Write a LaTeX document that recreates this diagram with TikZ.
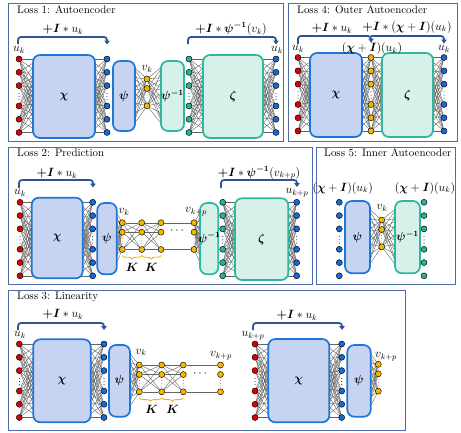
\documentclass[tikz,border=0pt]{standalone}
\usepackage{amsmath,bm}
\usetikzlibrary{arrows.meta,decorations.pathreplacing,calc}
\pgfdeclarelayer{bg}
\pgfsetlayers{bg,main}
\definecolor{panelc}{RGB}{78,108,168}
\definecolor{skipc}{RGB}{46,84,150}
\definecolor{encb}{RGB}{30,118,214}
\definecolor{encf}{RGB}{199,212,241}
\definecolor{decb}{RGB}{48,184,158}
\definecolor{decf}{RGB}{214,240,234}
\definecolor{nred}{RGB}{222,0,0}
\definecolor{nblue}{RGB}{22,104,222}
\definecolor{nyel}{RGB}{246,182,0}
\definecolor{nteal}{RGB}{38,178,150}
\definecolor{fanc}{RGB}{100,100,100}
\definecolor{bracec}{RGB}{245,180,20}
\tikzset{
 panel/.style={draw=panelc, line width=0.9pt},
 title/.style={anchor=west, font=\fontsize{10.9}{12}\selectfont, inner sep=0pt},
 enc/.style={draw=encb, fill=encf, line width=1.7pt, rounded corners=7pt, inner sep=0pt},
 dec/.style={draw=decb, fill=decf, line width=1.7pt, rounded corners=7pt, inner sep=0pt},
 blklbl/.style={font=\fontsize{12}{13}\selectfont, inner sep=0pt},
 neuron/.style={circle, draw=black, line width=0.45pt, minimum size=6pt, inner sep=0pt},
 fan/.style={draw=fanc, line width=0.4pt},
 skip/.style={draw=skipc, line width=1.8pt, rounded corners=3pt, -{Triangle[length=4pt,width=5.5pt]}},
 lbl/.style={font=\fontsize{11.5}{12}\selectfont, inner sep=0pt},
 kbrace/.style={decorate, decoration={brace, mirror, amplitude=3.5pt}, draw=bracec, line width=0.9pt},
}
% box: name, style, x1, y1, x2, y2, label
\newcommand\blk[7]{%
 \pgfmathsetmacro\bw{#5-#3}\pgfmathsetmacro\bh{#6-#4}%
 \node[#2, minimum width=\bw pt, minimum height=\bh pt] (#1) at ({(#3+#5)/2},{(#4+#6)/2}) {};
 \node[blklbl] (#1l) at (#1.center) {#7};}
% six-neuron column: name, x, y0, colour
\newcommand\sixcol[4]{%
 \foreach \o [count=\i] in {0,13.3,26.6,47,60.3,73.5}{\node[neuron, fill=#4] (#1\i) at (#2,#3+\o) {};}
 \foreach \d in {-3.2,0,3.2}{\fill (#2,#3+37.5+\d) circle (0.5pt);}}
% three-neuron column: name, x, y0
\newcommand\threecol[3]{%
 \foreach \o [count=\i] in {0,9.5,26.8}{\node[neuron, fill=nyel] (#1\i) at (#2,#3+\o) {};}
 \foreach \d in {-2.8,0,2.8}{\fill[black!70] (#2,#3+18.2+\d) circle (0.4pt);}}
% fan: node prefix, count, x, ytop, ybot (6 hidden levels)
\newcommand\fan[5]{\begin{pgfonlayer}{bg}\foreach \i in {1,...,#2}{\foreach \j in {0,...,5}{\draw[fan] (#1\i.center) -- (#3,{#4+(#5-#4)*\j/5});}}\end{pgfonlayer}}
% full connection between two 3-columns
\newcommand\full[2]{\begin{pgfonlayer}{bg}\foreach \i in {1,2,3}{\foreach \j in {1,2,3}{\draw[fan] (#1\i) -- (#2\j);}}\end{pgfonlayer}}
\begin{document}
\begin{tikzpicture}[x=1pt,y=-1pt]
\useasboundingbox (0,0) rectangle (461,432);
% panels
\draw[panel] (8,3) rectangle (283,141);
\draw[panel] (288,3) rectangle (457,141);
\draw[panel] (8,147) rectangle (312,284);
\draw[panel] (316,147) rectangle (455,284);
\draw[panel] (8,290) rectangle (405,430);
\node[title] (t1) at (17,9.5) {Loss 1: Autoencoder};
\node[title] (t4) at (297,9.5) {Loss 4: Outer Autoencoder};
\node[title] (t2) at (17,153) {Loss 2: Prediction};
\node[title] (t5) at (324,153) {Loss 5: Inner Autoencoder};
\node[title] (t3) at (17,297) {Loss 3: Linearity};

% ================= Loss 1
\blk{L1chi}{enc}{33}{55}{95}{138}{$\bm{\chi}$}
\blk{L1psi}{enc}{113}{61}{135}{131}{$\bm{\psi}$}
\blk{L1psii}{dec}{161}{61}{184}{131}{$\bm{\psi}^{\bm{-1}}$}
\blk{L1zeta}{dec}{203}{55}{263}{138}{$\bm{\zeta}$}
\sixcol{L1r}{19}{59}{nred}
\sixcol{L1b}{107}{59}{nblue}
\threecol{L1v}{147}{79}
\sixcol{L1t}{189}{59}{nteal}
\sixcol{L1o}{276}{59}{nblue}
\fan{L1r}{6}{39}{59}{132.5}
\fan{L1b}{6}{89}{59}{132.5}
\fan{L1v}{3}{132}{65}{127}
\fan{L1v}{3}{164}{65}{127}
\fan{L1t}{6}{209}{59}{132.5}
\fan{L1o}{6}{257}{59}{132.5}
\node[lbl] (L1uk) at (19,50) {$u_k$};
\node[lbl] (L1vk) at (147,69) {$v_k$};
\node[lbl] (L1uo) at (277,50) {$u_k$};
\coordinate (L1a1) at (18,44); \coordinate (L1a2) at (107,44.5);
\coordinate (L1c1) at (188,44); \coordinate (L1c2) at (276,44.5);
\draw[skip] (L1a1) |- (107,37) -- (L1a2);
\draw[skip] (L1c1) |- (276,37) -- (L1c2);
\node[lbl] (L1s1) at (63,29) {$\bm{+I} * u_k$};
\node[lbl] (L1s2) at (231,29) {$\bm{+I} * \bm{\psi}^{\bm{-1}}(v_k)$};

% ================= Loss 4
\blk{L4chi}{enc}{310}{53}{362}{137}{$\bm{\chi}$}
\blk{L4zeta}{dec}{382}{53}{433}{137}{$\bm{\zeta}$}
\sixcol{L4r}{298}{57.5}{nred}
\sixcol{L4y}{371}{57.5}{nyel}
\sixcol{L4o}{444}{57.5}{nblue}
\fan{L4r}{6}{316}{57.5}{131}
\fan{L4y}{6}{356}{57.5}{131}
\fan{L4y}{6}{388}{57.5}{131}
\fan{L4o}{6}{427}{57.5}{131}
\node[lbl] (L4uk) at (298,49) {$u_k$};
\node[lbl] (L4mid) at (372,48.5) {$(\bm{\chi}+\bm{I})(u_k)$};
\node[lbl] (L4uo) at (444,49) {$u_k$};
\coordinate (L4a1) at (298,44); \coordinate (L4a2) at (371,42.5);
\coordinate (L4c1) at (371,36); \coordinate (L4c2) at (444,43.5);
\draw[skip] (L4a1) |- (371,36) -- (L4a2);
\draw[skip] (L4c1) -| (L4c2);
\node[lbl] (L4s1) at (332,28) {$\bm{+I} * u_k$};
\node[lbl] (L4s2) at (407,27) {$\bm{+I} * (\bm{\chi}+\bm{I})(u_k)$};

% ================= Loss 2
\blk{L2chi}{enc}{31.7}{197.7}{82.7}{278.3}{$\bm{\chi}$}
\blk{L2psi}{enc}{97.3}{203}{116.7}{274.3}{$\bm{\psi}$}
\blk{L2psii}{dec}{200}{203}{218.3}{274.3}{$\bm{\psi}^{\bm{-1}}$}
\blk{L2zeta}{dec}{235}{198.3}{288.3}{280}{$\bm{\zeta}$}
\sixcol{L2r}{20}{202.3}{nred}
\sixcol{L2b}{92.7}{202.3}{nblue}
\threecol{L2a}{122.3}{222.7}
\threecol{L2c}{141.7}{222.7}
\threecol{L2d}{161}{222.7}
\threecol{L2e}{194}{222.7}
\sixcol{L2t}{222.7}{202.3}{nteal}
\sixcol{L2o}{296.7}{202.3}{nblue}
\fan{L2r}{6}{37}{202.3}{275.8}
\fan{L2b}{6}{77.5}{202.3}{275.8}
\fan{L2a}{3}{114}{208}{269}
\fan{L2e}{3}{203}{208}{269}
\fan{L2t}{6}{240.5}{202.3}{275.8}
\fan{L2o}{6}{283}{202.3}{275.8}
\full{L2a}{L2c}
\full{L2c}{L2d}
\begin{pgfonlayer}{bg}
\draw[fan] (L2d1) -- (L2e1);
\draw[fan] (L2d3) -- (L2e3);
\end{pgfonlayer}
\node[lbl] (L2dots) at (178,231) {$\cdots$};
\draw[kbrace] (L2a3.center) ++(0,6) coordinate (L2k0) -- ($(L2c3.center)+(0,6)$) coordinate (L2k1);
\draw[kbrace] (L2k1) -- ($(L2d3.center)+(0,6)$);
\node[lbl] (L2K1) at (132,267) {$\bm{K}$};
\node[lbl] (L2K2) at (151.4,267) {$\bm{K}$};
\node[lbl] (L2uk) at (20,193) {$u_k$};
\node[lbl] (L2vk) at (124,212) {$v_k$};
\node[lbl] (L2vkp) at (196,212) {$v_{k+p}$};
\node[lbl] (L2ukp) at (297,193) {$u_{k+p}$};
\coordinate (L2a1c) at (19,188); \coordinate (L2a2c) at (93,187.5);
\coordinate (L2c1c) at (221,188); \coordinate (L2c2c) at (297,187);
\draw[skip] (L2a1c) |- (93,180) -- (L2a2c);
\draw[skip] (L2c1c) |- (297,180) -- (L2c2c);
\node[lbl] (L2s1) at (57,173) {$\bm{+I} * u_k$};
\node[lbl] (L2s2) at (259,173) {$\bm{+I} * \bm{\psi}^{\bm{-1}}(v_{k+p})$};

% ================= Loss 5
\blk{L5psi}{enc}{345}{201}{370}{273.3}{$\bm{\psi}$}
\blk{L5psii}{dec}{395}{201}{420}{273.3}{$\bm{\psi}^{\bm{-1}}$}
\sixcol{L5b}{339.3}{202.3}{nblue}
\threecol{L5v}{381.7}{220}
\sixcol{L5t}{424}{202.3}{nteal}
\fan{L5v}{3}{367}{207}{268}
\fan{L5v}{3}{398}{207}{268}
\node[lbl] (L5in) at (342.7,188) {$(\bm{\chi}+\bm{I})(u_k)$};
\node[lbl] (L5out) at (425,188) {$(\bm{\chi}+\bm{I})(u_k)$};
\node[lbl] (L5vk) at (382,208) {$v_k$};

% ================= Loss 3
\blk{L3chi}{enc}{33.3}{339.3}{90.7}{422.3}{$\bm{\chi}$}
\blk{L3psi}{enc}{109}{345}{130}{416.7}{$\bm{\psi}$}
\blk{L3chib}{enc}{268.3}{339}{329.3}{422.3}{$\bm{\chi}$}
\blk{L3psib}{enc}{347.3}{345}{370.7}{416.7}{$\bm{\psi}$}
\sixcol{L3r}{19.3}{344}{nred}
\sixcol{L3b}{104}{344}{nblue}
\threecol{L3a}{139.3}{365}
\threecol{L3c}{161.7}{365}
\threecol{L3d}{183.3}{365}
\threecol{L3e}{220.5}{365}
\sixcol{L3s}{255}{344}{nred}
\sixcol{L3q}{341.7}{344}{nblue}
\threecol{L3f}{378.3}{364.3}
\fan{L3r}{6}{39}{344}{417.5}
\fan{L3b}{6}{85}{344}{417.5}
\fan{L3a}{3}{127}{350}{411}
\fan{L3s}{6}{274}{344}{417.5}
\fan{L3q}{6}{324}{344}{417.5}
\fan{L3f}{3}{368}{350}{411}
\full{L3a}{L3c}
\full{L3c}{L3d}
\begin{pgfonlayer}{bg}
\draw[fan] (L3d1) -- (L3e1);
\draw[fan] (L3d3) -- (L3e3);
\end{pgfonlayer}
\node[lbl] (L3dots) at (201,373.5) {$\cdots$};
\draw[kbrace] ($(L3a3.center)+(0,6)$) -- ($(L3c3.center)+(0,6)$) coordinate (L3k1);
\draw[kbrace] (L3k1) -- ($(L3d3.center)+(0,6)$);
\node[lbl] (L3K1) at (151.7,409) {$\bm{K}$};
\node[lbl] (L3K2) at (172.7,409) {$\bm{K}$};
\node[lbl] (L3uk) at (20,335) {$u_k$};
\node[lbl] (L3vk) at (141,352.5) {$v_k$};
\node[lbl] (L3vkp) at (221,356) {$v_{k+p}$};
\node[lbl] (L3ukp) at (253,335.5) {$u_{k+p}$};
\node[lbl] (L3vkp2) at (386,356.5) {$v_{k+p}$};
\coordinate (L3a1c) at (18,330); \coordinate (L3a2c) at (104,330);
\coordinate (L3c1c) at (253,330); \coordinate (L3c2c) at (342,330);
\draw[skip] (L3a1c) |- (104,323) -- (L3a2c);
\draw[skip] (L3c1c) |- (342,323) -- (L3c2c);
\node[lbl] (L3s1) at (63,314) {$\bm{+I} * u_k$};
\node[lbl] (L3s2) at (297,315) {$\bm{+I} * u_k$};
\end{tikzpicture}
\end{document}
